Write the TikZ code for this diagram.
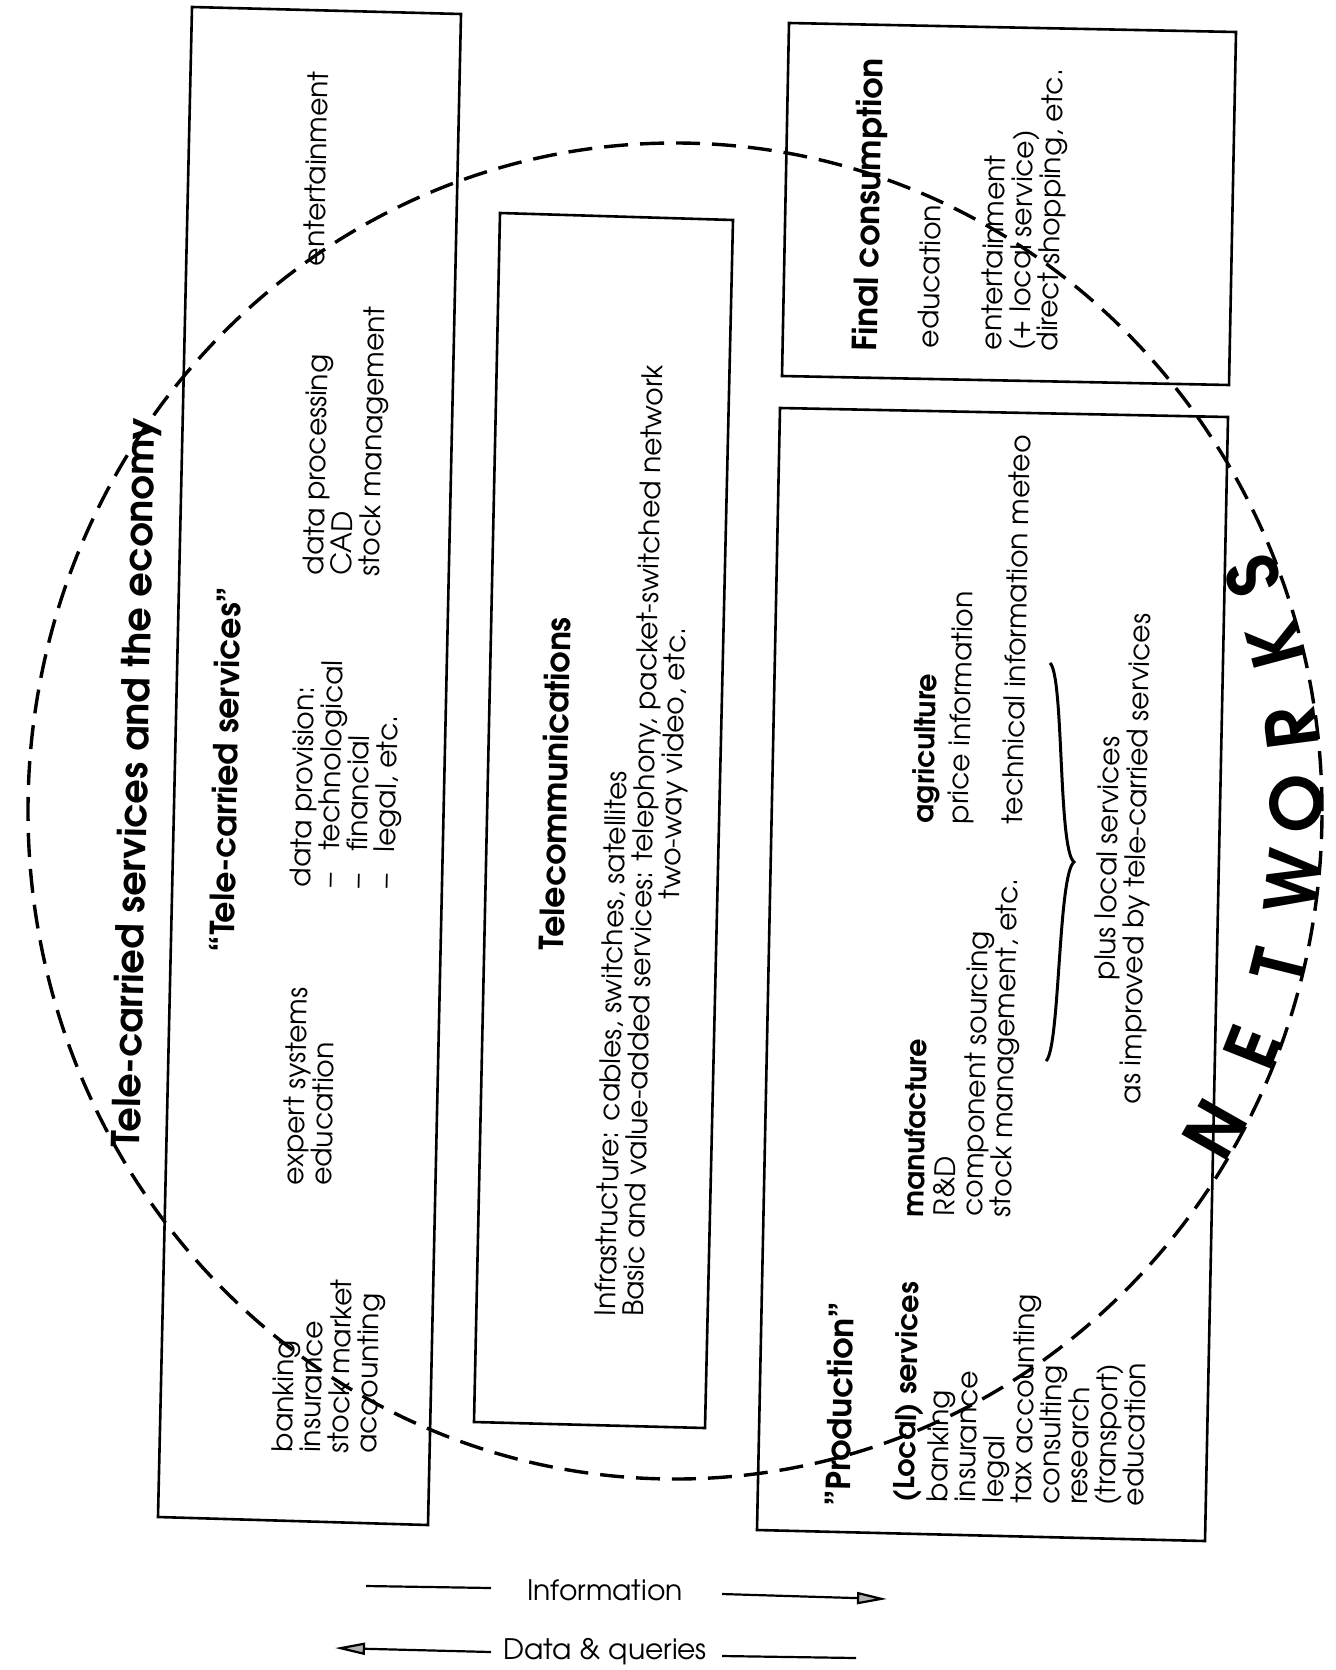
\documentclass[tikz,border=0pt]{standalone}
\usepackage{fontspec}
\setmainfont{texgyreadventor}[Extension=.otf, UprightFont=*-regular, BoldFont=*-bold, ItalicFont=*-italic, BoldItalicFont=*-bolditalic]
\usetikzlibrary{arrows.meta}
\tikzstyle{box}=[draw,line width=1.3pt]
\tikzstyle{txt}=[rotate=88.8,anchor=north west,inner sep=0pt,align=left,font=\fontsize{14.1}{14}\selectfont]
\tikzstyle{head}=[txt,font=\bfseries\fontsize{16.6}{17}\selectfont]
\tikzstyle{subhead}=[txt,font=\bfseries\fontsize{14.3}{15}\selectfont]
\tikzstyle{title}=[txt,font=\bfseries\fontsize{19.2}{20}\selectfont]
\tikzstyle{netletter}=[anchor=base,inner sep=0pt,font=\bfseries\fontsize{35}{36}\selectfont]
\tikzstyle{legend}=[inner sep=0pt,font=\fontsize{14.1}{15}\selectfont]
\tikzstyle{legline}=[line width=1.1pt]
\tikzstyle{circ}=[line width=1.7pt,dash pattern=on 12pt off 6pt]
\tikzstyle{brace}=[line width=1.5pt]

\begin{document}
\begin{tikzpicture}[x=0.5pt,y=-0.5pt]
      \useasboundingbox (0,0) rectangle (1336,1670);

      \coordinate (b1a) at (192,7);   \coordinate (b1b) at (461,14);
      \coordinate (b1c) at (428,1525); \coordinate (b1d) at (158,1517);
      \coordinate (b2a) at (500,213);  \coordinate (b2b) at (733,220);
      \coordinate (b2c) at (705,1428); \coordinate (b2d) at (474,1422);
      \coordinate (b3a) at (789,23);   \coordinate (b3b) at (1236,32);
      \coordinate (b3c) at (1229,385); \coordinate (b3d) at (782,376);
      \coordinate (b4a) at (780,408);  \coordinate (b4b) at (1228,417);
      \coordinate (b4c) at (1205,1541); \coordinate (b4d) at (757,1530);
      \foreach \b in {b1,b2,b3,b4}{
        \path[box] (\b a) -- (\b b) -- (\b c) -- (\b d) -- cycle;
      }

      \node[title] (title) at (110,1147) {Tele-carried services and the economy};
      \node[head] (telecarried) at (208,952) {“Tele-carried services”};
      \node[txt] (expert) at (282,1185) {expert systems\\education};
      \node[txt] (provision) at (289,887) {data provision:\\–\hspace{0.8em}technological\\–\hspace{0.8em}financial\\–\hspace{0.8em}legal, etc.};
      \node[txt] (processing) at (302,575) {data processing\\CAD\\stock management};
      \node[txt] (entertain) at (303,266) {entertainment};
      \node[txt] (banking) at (271,1452) {banking\\insurance\\stock market\\accounting};

      \node[head] (telecom) at (538,950) {Telecommunications};
      \node[txt] (infra) at (594,1316) {Infrastructure: cables, switches, satellites\\Basic and value-added services: telephony, packet-switched network\\\hspace*{209pt}two-way video, etc.};

      \node[head] (final) at (851,351) {Final consumption};
      \node[txt] (fceduc) at (917,348) {education};
      \node[txt] (fcent) at (980,350) {entertainment\\(+ local service)\\direct shopping, etc.};

      \node[head] (production) at (824,1506) {”Production”};
      \node[subhead] (local) at (892,1502) {(Local) services};
      \node[txt] (locallist) at (926,1502) {banking\\insurance\\legal\\tax accounting\\consulting\\research\\(transport)\\education};
      \node[subhead] (manuf) at (902,1217) {manufacture};
      \node[txt] (manuflist) at (933,1216) {R\&D\\component sourcing\\stock management, etc.};
      \node[subhead] (agri) at (911,823) {agriculture};
      \node[txt] (price) at (947,824) {price information};
      \node[txt] (technical) at (1001,824) {technical information meteo};
      \node[txt,anchor=north,align=center] (plus) at (1096,858) {plus local services\\as improved by tele-carried services};

      \coordinate (bracetop) at (1050,663);
      \coordinate (bracetip) at (1074,862);
      \coordinate (bracebot) at (1046,1061);
      \draw[brace] (bracetop) .. controls (1064,675) and (1058,850) .. (bracetip)
                   .. controls (1058,874) and (1060,1049) .. (bracebot);

      \foreach \l/\a in {N/-29.7,E/-21.6,T/-14,W/-6.3,O/0.7,R/7.4,K/15,S/21.5}{
        \node[netletter,rotate={90+\a}] (net\l) at ({675+647*cos(\a)},{811-668*sin(\a)}) {\l};
      }

      \coordinate (ctr) at (675,811);
      \draw[circ] (ctr) ellipse [x radius=323.5pt,y radius=334pt];

      \node[legend] (info) at (605,1590) {Information};
      \node[legend] (dataq) at (605,1652) {Data \& queries};
      \coordinate (infoA) at (366,1586); \coordinate (infoB) at (491,1588);
      \coordinate (infoC) at (722,1594); \coordinate (infoD) at (887,1599);
      \coordinate (dataA) at (491,1652); \coordinate (dataB) at (335,1648);
      \coordinate (dataC) at (722,1656); \coordinate (dataD) at (856,1658);
      \draw[legline] (infoA) -- (infoB);
      \draw[legline,-{Triangle[length=15pt,width=6pt,fill=gray!60]}] (infoC) -- (infoD);
      \draw[legline,-{Triangle[length=15pt,width=6pt,fill=gray!60]}] (dataA) -- (dataB);
      \draw[legline] (dataC) -- (dataD);

    \end{tikzpicture}
\end{document}
